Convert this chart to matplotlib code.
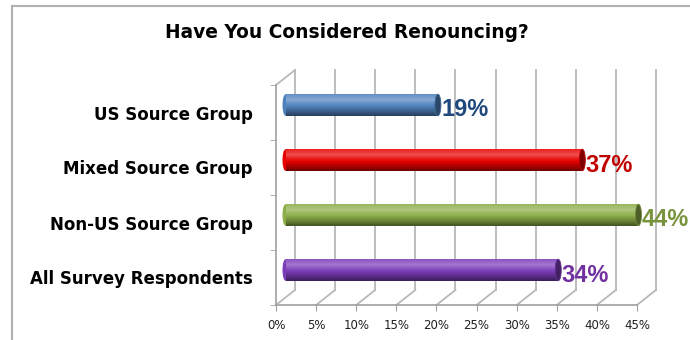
import numpy as np
import matplotlib
matplotlib.use("Agg")
import matplotlib.pyplot as plt
from matplotlib.patches import Ellipse
from matplotlib.colors import to_rgb

# data
groups = ["US Source Group", "Mixed Source Group", "Non-US Source Group", "All Survey Respondents"]
values = [19, 37, 44, 34]
bar_colors = ["#4F81BD", "#E80000", "#8CAD48", "#7B3CB8"]
label_colors = ["#1F497D", "#C00000", "#77933C", "#7030A0"]
xticks = [0, 5, 10, 15, 20, 25, 30, 35, 40, 45]
xticklabels = ["0%", "5%", "10%", "15%", "20%", "25%", "30%", "35%", "40%", "45%"]

plt.rcParams['font.family'] = ['DejaVu Sans']

W, H = 690, 340
fig = plt.figure(figsize=(W / 100, H / 100), dpi=100)
fig.patch.set_facecolor("white")

# front plane of the 3d box
ax = fig.add_axes([276 / W, (H - 305) / H, (637 - 276) / W, (305 - 85) / H])
ax.set_xlim(0, 45)
ax.set_ylim(-0.5, 3.5)
ax.patch.set_alpha(0)

grid_c = "#b8b8b8"
axis_c = "#a0a0a0"

# depth of the box in pixels, converted to data units
ppx = (637 - 276) / 45
ppy = (305 - 85) / 4
dx, dy = 19 / ppx, 15 / ppy

# back wall gridlines + floor diagonals
for x in xticks:
    ax.plot([x + dx, x + dx], [-0.5 + dy, 3.5 + dy], color=grid_c, lw=1.3, clip_on=False, zorder=1)
    ax.plot([x, x + dx], [-0.5, -0.5 + dy], color=grid_c, lw=1.3, clip_on=False, zorder=1)
# left wall top edge
ax.plot([0, dx], [3.5, 3.5 + dy], color=grid_c, lw=1.3, clip_on=False, zorder=1)

# cylinder bars at half depth
ypos = [3, 2, 1, 0]
bh = 0.4
nstripe = 30
prof_t = np.linspace(0, 1, nstripe)
def shade(t):
    # light band near the top, dark at the bottom
    return np.interp(t, [0, 0.25, 0.55, 1.0], [0.12, 0.3, 0.0, -0.5])

for yv, v, c, lc in zip(ypos, values, bar_colors, label_colors):
    base = np.array(to_rgb(c))
    yc = yv + dy / 2
    xs = dx / 2
    for i, t in enumerate(prof_t):
        s = shade(t)
        col = base + (1 - base) * s if s > 0 else base * (1 + s)
        y0 = yc + bh / 2 - (i + 1) * bh / nstripe
        ax.barh(y0, v, height=bh / nstripe * 1.05, left=xs, align='edge',
                color=col, linewidth=0, zorder=3, clip_on=False)
    dark = base * 0.55
    ax.add_patch(Ellipse((xs, yc), 6 / ppx, bh * 0.98, facecolor=base,
                         edgecolor='none', zorder=2, clip_on=False))
    ax.add_patch(Ellipse((xs + v, yc), 6 / ppx, bh * 0.98, facecolor=dark,
                         edgecolor=base * 0.8, lw=0.6, zorder=4, clip_on=False))
    ax.text(xs + v + 3.5 / ppx, yc - 5 / ppy, f"{v}%", color=lc, fontsize=17,
            fontweight='bold', family=['Liberation Sans', 'DejaVu Sans'],
            ha='left', va='center', zorder=5, clip_on=False)

# axes styling
for side in ["top", "right"]:
    ax.spines[side].set_visible(False)
ax.spines["left"].set_color(axis_c)
ax.spines["bottom"].set_color(axis_c)
ax.spines["left"].set_linewidth(1.2)
ax.spines["bottom"].set_linewidth(1.2)

ax.set_xticks(xticks)
ax.set_xticklabels(xticklabels)
ax.tick_params(axis='x', length=4, color=axis_c, labelsize=8.5, labelcolor="#202020", pad=6)

ax.set_yticks(ypos)
ax.set_yticklabels(groups, fontsize=12, fontweight='bold')
ax.set_yticks([-0.5, 0.5, 1.5, 2.5, 3.5], minor=True)
ax.tick_params(axis='y', which='major', length=0, pad=17)
ax.tick_params(axis='y', which='minor', length=4, color=axis_c)

fig.text(347 / W, 1 - 32 / H, "Have You Considered Renouncing?", fontsize=13.4,
         fontweight='bold', ha='center', va='center')

# chart frame (only top and left edges show)
frame_c = "#b0b0b0"
fig.add_artist(plt.Line2D([12 / W, 1], [1 - 5.5 / H, 1 - 5.5 / H], color=frame_c, lw=1.5))
fig.add_artist(plt.Line2D([12 / W, 12 / W], [0, 1 - 5.5 / H], color=frame_c, lw=1.5))

fig.savefig("out.png", dpi=100, facecolor="white")
